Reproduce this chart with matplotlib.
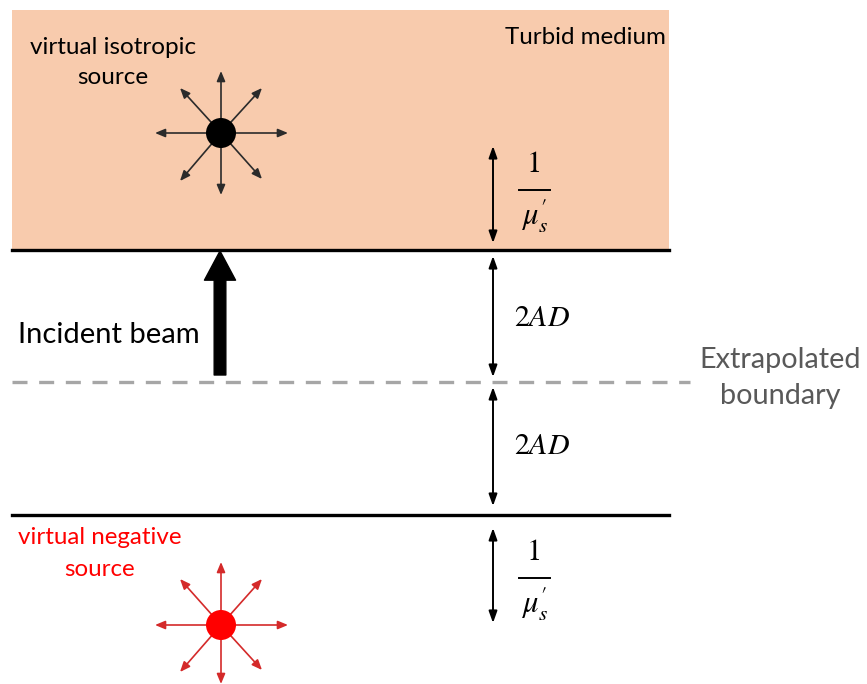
import matplotlib
matplotlib.use("Agg")
import matplotlib.pyplot as plt
from matplotlib.patches import Rectangle, Circle

W, H = 867, 684
fig = plt.figure(figsize=(W / 100, H / 100), dpi=100)
ax = fig.add_axes([0, 0, 1, 1])
ax.set_xlim(0, W)
ax.set_ylim(H, 0)
ax.axis("off")

FONT = ["Lato", "DejaVu Sans"]
plt.rcParams["mathtext.fontset"] = "stix"

# geometry of the layers (pixel coordinates)
medium_box = (12, 10, 657, 240)       # x, y, w, h
surface_y = 250
extrap_y = 382
image_y = 515
line_x = (12, 669)
dash_x = (12, 690)

# sources: centre, ray tips
iso_center = (221, 133)
iso_tips = [(155, 133), (288, 133), (221, 71), (221, 195),
            (180, 88), (262, 88), (180, 181), (262, 179)]
neg_center = (221, 625)
neg_tips = [(155, 625), (288, 625), (221, 562), (221, 684),
            (180, 579), (262, 579), (180, 672), (262, 670)]

# double-headed distance arrows (x, y_top, y_bottom)
dist_arrows = [(493, 146, 243), (493, 256, 377), (493, 387, 506), (493, 528, 623)]

# peach medium
ax.add_patch(Rectangle(medium_box[:2], medium_box[2], medium_box[3],
                       facecolor="#F8CBAD", edgecolor="none", zorder=0))

# boundaries
ax.plot(line_x, [surface_y, surface_y], color="black", lw=2.4, zorder=2)
ax.plot(line_x, [image_y, image_y], color="black", lw=2.4, zorder=2)
ax.plot(dash_x, [extrap_y, extrap_y], color="#A6A6A6", lw=2.4,
        dashes=(4.5, 3.5), zorder=1)

# incident beam
ax.annotate("", xy=(220, 251), xytext=(220, 375),
            arrowprops=dict(arrowstyle="simple,head_width=1.6,head_length=1.5,tail_width=0.6",
                            color="black", shrinkA=0, shrinkB=0, mutation_scale=14),
            zorder=3)


def source(center, tips, dot_color, ray_color):
    for tx, ty in tips:
        ax.annotate("", xy=(tx, ty), xytext=center,
                    arrowprops=dict(arrowstyle="-|>,head_width=0.25,head_length=0.6",
                                    color=ray_color, lw=1.2, shrinkA=0, shrinkB=0,
                                    mutation_scale=10),
                    zorder=3)
    ax.add_patch(Circle(center, 15, facecolor=dot_color, edgecolor="none", zorder=4))


source(iso_center, iso_tips, "black", "#2b2b2b")
source(neg_center, neg_tips, "#FF0000", "#D42A2A")

for x, y0, y1 in dist_arrows:
    ax.annotate("", xy=(x, y0), xytext=(x, y1),
                arrowprops=dict(arrowstyle="<|-|>,head_width=0.25,head_length=0.7",
                                color="black", lw=1.4, shrinkA=0, shrinkB=0,
                                mutation_scale=10),
                zorder=3)


def inv_mu(yc):
    ax.text(534, yc - 25, "1", fontsize=22, ha="center", va="center",
            fontfamily="STIXGeneral")
    ax.plot([519, 550], [yc, yc], color="black", lw=1.4)
    ax.text(534, yc + 26, r"$\mu_s^{\prime}$", fontsize=22, ha="center", va="center")


inv_mu(190)
inv_mu(578)
ax.text(514, 318, r"$2AD$", fontsize=21.5, ha="left", va="center")
ax.text(514, 445, r"$2AD$", fontsize=21.5, ha="left", va="center")

# labels
ax.text(113, 47, "virtual isotropic", fontsize=17.5, ha="center", va="center",
        family=FONT, color="black")
ax.text(113, 77, "source", fontsize=17.5, ha="center", va="center",
        family=FONT, color="black")
ax.text(585, 38, "Turbid medium", fontsize=17.4, ha="center", va="center",
        family=FONT, color="black")
ax.text(18, 335, "Incident beam", fontsize=21, ha="left", va="center",
        family=FONT, color="black")
ax.text(780, 360, "Extrapolated", fontsize=20.8, ha="center", va="center",
        family=FONT, color="#595959")
ax.text(780, 396, "boundary", fontsize=20.8, ha="center", va="center",
        family=FONT, color="#595959")
ax.text(100, 538, "virtual negative", fontsize=17.4, ha="center", va="center",
        family=FONT, color="#FF0000")
ax.text(100, 569, "source", fontsize=17.4, ha="center", va="center",
        family=FONT, color="#FF0000")

fig.savefig("out.png", dpi=100, facecolor="white")
